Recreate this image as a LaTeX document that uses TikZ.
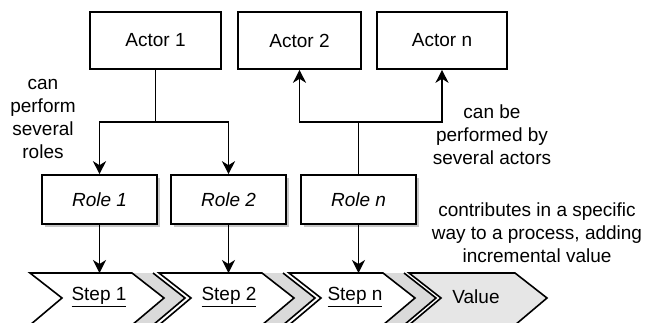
\documentclass[tikz,border=0pt]{standalone}
\usepackage{fontspec}
\setmainfont{Liberation Sans}
\usetikzlibrary{arrows.meta,shadows}
\definecolor{bandgray}{HTML}{DADADA}
\definecolor{valuegray}{HTML}{E6E6E6}
\begin{document}
\begin{tikzpicture}[x=1pt,y=-1pt,
  font=\fontsize{19}{22.8}\selectfont,
  line width=1.6pt,
  box/.style={draw=black,line width=1.6pt,fill=white,inner sep=0pt},
  actorbox/.style={box,minimum height=57pt},
  rolebox/.style={box,minimum width=115pt,minimum height=49pt,font=\fontsize{19}{22.8}\selectfont\itshape,
    drop shadow={shadow xshift=3pt,shadow yshift=-3pt,fill=gray!55,opacity=0.8}},
  note/.style={align=center,inner sep=0pt},
  arr/.style={-{Stealth[length=13pt,width=13pt,inset=4pt]}},
  stepshape/.style={draw=black,line width=1.6pt,fill=white,line join=miter},
  bandfill/.style={fill=bandgray,draw=none},
  bandedge/.style={draw=black,line width=1.6pt},
]
\clip (0,0) rectangle (648,322);

% actors
\node[actorbox,minimum width=131pt] (a1) at (155.5,40.5) {Actor 1};
\node[actorbox,minimum width=123pt] (a2) at (299.5,40.5) {Actor 2};
\node[actorbox,minimum width=130pt] (an) at (442,40.5) {Actor n};

% roles
\node[rolebox] (r1) at (99.5,199.5) {Role 1};
\node[rolebox] (r2) at (228.5,199.5) {Role 2};
\node[rolebox] (rn) at (358.5,199.5) {Role n};

% process chevrons: shaded band behind each step, then the step itself
\path[bandfill] (132,273) -- (153,273) -- (185,298) -- (153,325) -- (132,325) -- (164,298) -- cycle;
\draw[bandedge] (153,273) -- (185,298) -- (153,325);
\draw[stepshape] (30,273) -- (132,273) -- (164,298) -- (132,325) -- (30,325) -- (62,298) -- cycle;

\path[bandfill] (262,273) -- (283,273) -- (315,298) -- (283,325) -- (262,325) -- (294,298) -- cycle;
\draw[bandedge] (283,273) -- (315,298) -- (283,325);
\draw[stepshape] (159,273) -- (262,273) -- (294,298) -- (262,325) -- (159,325) -- (191,298) -- cycle;

\path[bandfill] (383,273) -- (404,273) -- (436,298) -- (404,325) -- (383,325) -- (415,298) -- cycle;
\draw[bandedge] (404,273) -- (436,298) -- (404,325);
\draw[stepshape] (289,273) -- (383,273) -- (415,298) -- (383,325) -- (289,325) -- (321,298) -- cycle;

\draw[stepshape,fill=valuegray] (409,273) -- (515,273) -- (547,298) -- (515,325) -- (409,325) -- (441,298) -- cycle;

\node[note] (s1) at (99,297) {\underline{Step 1}};
\node[note] (s2) at (229,297) {\underline{Step 2}};
\node[note] (sn) at (355,297) {\underline{Step n}};
\node[note] (val) at (476,297) {Value};

\coordinate (s1top) at (99.5,273);
\coordinate (s2top) at (228.5,273);
\coordinate (sntop) at (358.5,273);

% junctions
\coordinate (j1) at (155.5,122);
\coordinate (j2) at (358.5,122);

% actor 1 performs roles 1 and 2
\draw (a1) -- (j1);
\draw[arr] (j1) -| (r1);
\draw[arr] (j1) -| (r2);

% role n performed by actors 2 and n
\draw (rn) -- (j2);
\draw[arr] (j2) -| (a2);
\draw[arr] (j2) -| (an);

% roles feed the steps
\draw[arr] (r1) -- (s1top);
\draw[arr] (r2) -- (s2top);
\draw[arr] (rn) -- (sntop);

% annotations
\node[note] (t1) at (43,119) {can\\perform\\several\\roles};
\node[note] (t2) at (492,135) {can be\\performed by\\several actors};
\node[note] (t3) at (537,233) {contributes in a specific\\way to a process, adding\\incremental value};
\end{tikzpicture}
\end{document}
